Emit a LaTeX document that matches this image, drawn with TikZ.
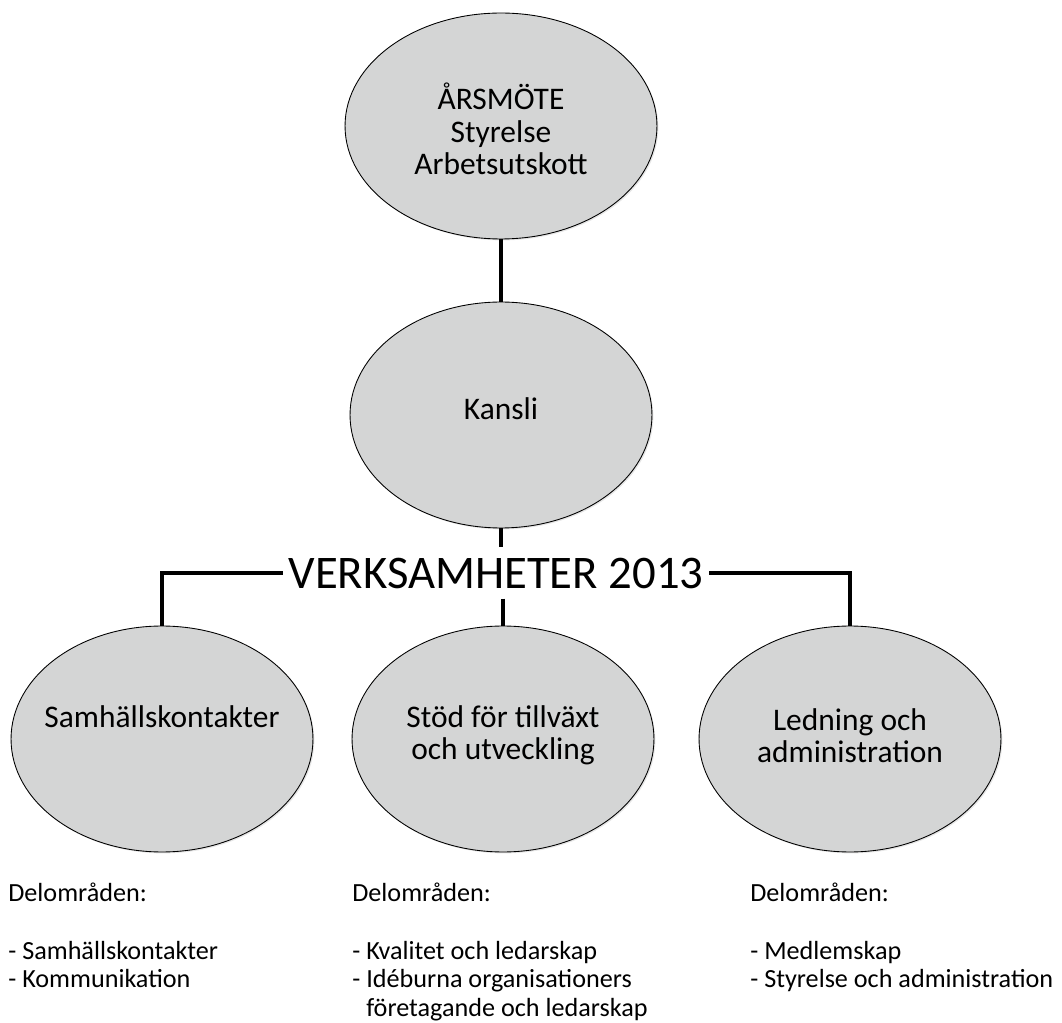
\documentclass[tikz,border=0pt]{standalone}
\usepackage{fontspec}
\setmainfont{Carlito}
\usepackage{xcolor}
\usepackage{tikz}
\usetikzlibrary{positioning,shapes.geometric,shadows}
\definecolor{ovalgray}{HTML}{D4D5D5}

\begin{document}
\begin{tikzpicture}[x=0.02cm,y=-0.02cm,
  oval/.style={ellipse,draw=black,line width=0.5pt,fill=ovalgray,inner sep=0pt,
    minimum width=6.04cm,minimum height=4.52cm,
    drop shadow={opacity=0.2,shadow xshift=0.8pt,shadow yshift=-0.8pt}},
  ovaltext/.style={align=center,font=\fontsize{17.9}{18.4}\selectfont},
  link/.style={line width=2.3pt},
  areatext/.style={align=left,anchor=north west,inner sep=0pt,font=\fontsize{14.9}{16.5}\selectfont}]
\useasboundingbox (0,0) rectangle (1062,1023);

% top and office
\node[oval,minimum width=6.24cm] (top) at (501,126) {};
\node[ovaltext] (toptext) at (501,129) {ÅRSMÖTE\\Styrelse\\Arbetsutskott};
\node[oval] (kansli) at (501,415) {};
\node[ovaltext] (kanslitext) at (501,409) {Kansli};

% the three activities
\foreach \x/\y/\n/\t in {162/717/sam/{Samhällskontakter},
                         503/735/stod/{Stöd för tillväxt\\och utveckling},
                         850/736/led/{Ledning och\\administration}} {
  \node[oval] (\n) at (\x,739) {};
  \node[ovaltext] (\n text) at (\x,\y) {\t};
}

\node[font=\fontsize{26.6}{28}\selectfont,inner xsep=3pt,inner ysep=5.7pt] (verk) at (496,573) {VERKSAMHETER 2013};

\draw[link] (top) -- (kansli);
\draw[link] (kansli) -- (kansli |- verk.north);
\draw[link] (verk.south -| stod) -- (stod);
\draw[link] (verk.west) -| (sam);
\draw[link] (verk.east) -| (led);

% sub areas
\node[areatext] (omrsam) at (8,883) {Delområden:\\[16pt]- Samhällskontakter\\- Kommunikation};
\node[areatext] (omrstod) at (352,883) {Delområden:\\[16pt]- Kvalitet och ledarskap\\- Idéburna organisationers\\\phantom{- }företagande och ledarskap};
\node[areatext] (omrled) at (750,883) {Delområden:\\[16pt]- Medlemskap\\- Styrelse och administration};
\end{tikzpicture}
\end{document}
